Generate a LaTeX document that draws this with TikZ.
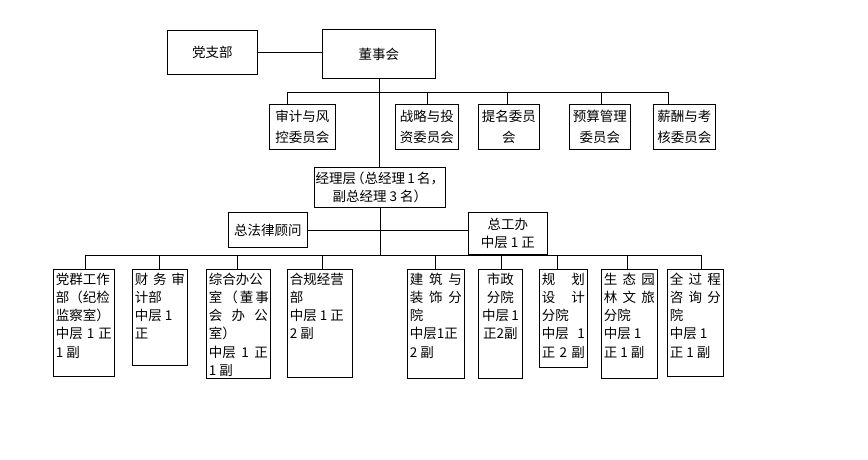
\documentclass[tikz,border=0pt]{standalone}
\usepackage{fontspec}
\newfontfamily\cjk{Noto Sans CJK SC}
\newcommand\spr[1]{\makebox[\linewidth][s]{#1}}
\newcommand\boxtext[3]{\parbox[t][#1][t]{#2}{\fontsize{13.5}{18.2}\selectfont\cjk\raggedright #3}}
\begin{document}
\begin{tikzpicture}[x=1pt,y=-1pt,
  box/.style={draw=black,line width=0.8pt,inner sep=0pt,anchor=north west,font=\cjk\fontsize{13.5}{18.2}\selectfont,align=center},
  cbox/.style={box,font=\cjk\fontsize{13.5}{21}\selectfont},
  tbox/.style={draw=black,line width=0.8pt,inner xsep=2.5pt,inner ysep=3.5pt,anchor=north west},
  conn/.style={line width=0.8pt}]
\fill[white] (0,0) rectangle (868,460);
\useasboundingbox (0,0) rectangle (868,460);
% top
\node[box,minimum width=90,minimum height=44] (dz) at (167,30) {党支部};
\node[box,minimum width=113,minimum height=49] (dsh) at (322,29) {董事会};
% committees
\node[cbox,minimum width=66,minimum height=45] (c1) at (269,104) {审计与风\\控委员会};
\node[cbox,minimum width=63,minimum height=45] (c2) at (395,104) {战略与投\\资委员会};
\node[cbox,minimum width=61,minimum height=45] (c3) at (478,104) {提名委员\\会};
\node[cbox,minimum width=61,minimum height=45] (c4) at (569,104) {预算管理\\委员会};
\node[cbox,minimum width=62,minimum height=45] (c5) at (653,104) {薪酬与考\\核委员会};
% management
\node[box,minimum width=131,minimum height=40] (jl) at (314,167) {经理层\kern-5pt（总经理\,1\,名，\\副总经理 3 名）};
\node[box,minimum width=79,minimum height=35] (fl) at (228,212) {总法律顾问};
\node[box,minimum width=79,minimum height=42] (zg) at (468,212) {总工办\\中层 1 正};
% departments
\node[tbox] (b1) at (53,269) {\boxtext{100pt}{56pt}{党群工作\\部（纪检\\监察室）\\\spr{中层 1 正}\\1 副}};
\node[tbox] (b2) at (132,269) {\boxtext{89pt}{50pt}{\spr{财 务 审}\\计部\\中层 1\\正}};
\node[tbox] (b3) at (206,269) {\boxtext{102pt}{59pt}{综合办公\\\spr{室 （ 董 事}\\\spr{会 办 公}\\室）\\\spr{中层 1 正}\\1 副}};
\node[tbox] (b4) at (287,269) {\boxtext{101pt}{60pt}{合规经营\\部\\中层 1 正\\2 副}};
\node[tbox] (b5) at (407,269) {\boxtext{102pt}{52pt}{\spr{建 筑 与}\\\spr{装 饰 分}\\院\\中层1正\\2 副}};
\node[tbox] (b6) at (478,269) {\boxtext{102pt}{39pt}{\centering 市政\\分院\\中层\,1\\正2副}};
\node[tbox] (b7) at (539,269) {\boxtext{91pt}{43pt}{\spr{规 划}\\\spr{设 计}\\分院\\\spr{中层 1}\\\spr{正 2 副}}};
\node[tbox] (b8) at (601,269) {\boxtext{102pt}{51pt}{\spr{生 态 园}\\\spr{林 文 旅}\\分院\\中层 1\\正 1 副}};
\node[tbox] (b9) at (667,269) {\boxtext{100pt}{51pt}{\spr{全 过 程}\\\spr{咨 询 分}\\院\\中层 1\\正 1 副}};
% connectors top
\draw[conn] (dz.east) -- (dz.east -| dsh.west);
\draw[conn] (dsh.south) -- (dsh.south |- jl.north);
\coordinate (cb1) at (287,92);
\coordinate (cb2) at (427,92);
\coordinate (cb3) at (507,92);
\coordinate (cb4) at (601,92);
\coordinate (cb5) at (668,92);
\draw[conn] (cb1) -- (cb5);
\foreach \i in {1,...,5} {\draw[conn] (cb\i) -- (cb\i |- c\i.north);}
% management connectors
\coordinate (bb1) at (85,255);
\coordinate (bb2) at (159,255);
\coordinate (bb3) at (237,255);
\coordinate (bb4) at (322,255);
\coordinate (bb5) at (435,255);
\coordinate (bb6) at (501,255);
\coordinate (bb7) at (557,255);
\coordinate (bb8) at (627,255);
\coordinate (bb9) at (701,255);
\draw[conn] (jl.south) -- (jl.south |- bb1);
\draw[conn] (fl.east) -- (fl.east -| zg.west);
\draw[conn] (bb1) -- (bb9);
\foreach \i in {1,...,9} {\draw[conn] (bb\i) -- (bb\i |- b\i.north);}
\end{tikzpicture}
\end{document}
